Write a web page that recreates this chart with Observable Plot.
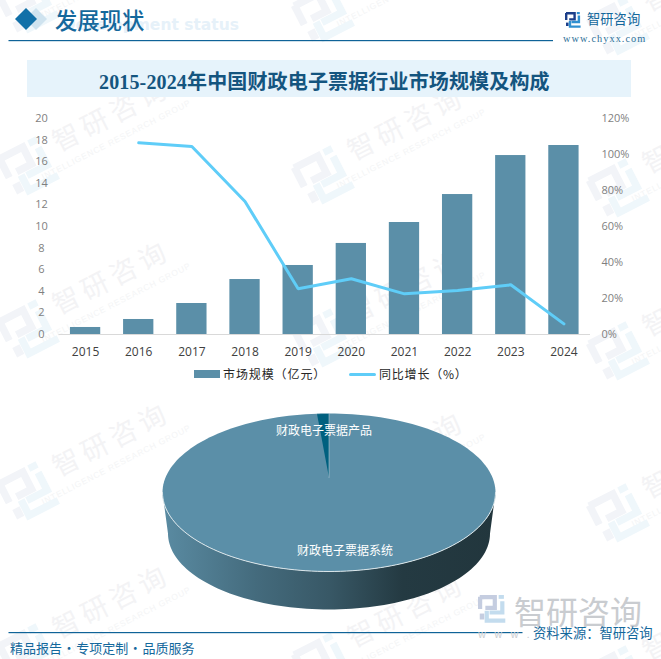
<!DOCTYPE html>
<html lang="zh">
<head>
<meta charset="utf-8">
<script src="https://cdn.jsdelivr.net/npm/d3@7"></script>
<script src="https://cdn.jsdelivr.net/npm/@observablehq/plot@0.6"></script>
<style>
html,body{margin:0;padding:0;background:#fff;}
#page{position:relative;width:661px;height:659px;overflow:hidden;font-family:"Noto Sans CJK SC",sans-serif;}
#page>*{position:absolute;}
#page svg{display:block;background:transparent;}
.nw{white-space:nowrap;line-height:1;}
</style>
</head>
<body>
<div id="page"></div>
<script>
const years = ["2015","2016","2017","2018","2019","2020","2021","2022","2023","2024"];
const marketSize = [0.65,1.39,2.87,5.09,6.39,8.43,10.37,12.96,16.57,17.5];
const growthYears = ["2016","2017","2018","2019","2020","2021","2022","2023","2024"];
const growthPct = [106.5,104.4,73.9,25.4,31,22.6,24.4,27.6,5.9];
const leftTicks = [0,2,4,6,8,10,12,14,16,18,20];
const rightTickPct = [0,20,40,60,80,100,120];
const pieNames = ["财政电子票据系统","财政电子票据产品"];
const pieShares = [98.85,1.15];

const barColor = "#5b8fa8", lineColor = "#5fcdf8", wedgeColor = "#00607f", ink = "#0f6398";
const cjk = '"Noto Sans CJK SC",sans-serif';
const numFont = '"Open Sans","Noto Sans CJK SC",sans-serif';
const page = d3.select("#page");

/* ---------- watermark ---------- */
const logoNavy = "M1 1.2H9.6V7.4H4.2M1.2 1V8";
const logoBlue = "M13.9 3.6V10H6.6M5 9V14.6H15.6";
const wm = page.append("svg").attr("width",661).attr("height",659).style("left",0).style("top",0);
function logo(g,s,a,b){
  g.attr("fill","none").attr("stroke-width",2.4);
  g.append("path").attr("d",logoNavy).attr("stroke",a);
  g.append("rect").attr("x",1).attr("y",10.6).attr("width",2.6).attr("height",3.4).attr("fill",a);
  g.append("rect").attr("x",11.8).attr("y",0).attr("width",3).attr("height",2.2).attr("fill",b);
  g.append("path").attr("d",logoBlue).attr("stroke",b);
}
const columns = [{x:112,dy:0},{x:407,dy:9},{x:702,dy:22}];
const rows = [-46,116,279,441,603];
for (const c of columns) for (const r of rows) {
  const y = r + c.dy;
  const g = wm.append("g").attr("transform",`translate(${c.x},${y}) rotate(-27)`);
  g.append("text").attr("text-anchor","middle").attr("y",8).attr("font-size",27).attr("letter-spacing",5)
    .attr("font-family",cjk).attr("fill","#f3f3f5").text("智研咨询");
  g.append("text").attr("text-anchor","middle").attr("x",-7).attr("y",26).attr("font-size",8.5).attr("letter-spacing",.8)
    .attr("font-family",'"Liberation Sans",sans-serif').attr("fill","#f4f5f6").text("INTELLIGENCE RESEARCH GROUP");
  const l = wm.append("g").attr("transform",`translate(${c.x-84},${y+52}) rotate(-27) scale(3.1) translate(-8,-8)`);
  logo(l,1,"#f2f4f8","#eff7fb");
}

/* ---------- header ---------- */
wm.append("text").attr("x",239).attr("y",30).attr("text-anchor","end").attr("font-size",15.5).attr("font-weight",700)
  .attr("font-family",'"DejaVu Sans",sans-serif').attr("fill","#e6f1f9").text("Development status");
wm.append("path").attr("d","M36 8L47 19L36 30L25 19Z").attr("fill","#cfe3ef");
wm.append("path").attr("d","M26 8L37 19L26 30L15 19Z").attr("fill","#1170a8");
wm.append("rect").attr("x",8.5).attr("y",40).attr("width",544.5).attr("height",1.2).attr("fill","#0f6398");
wm.append("rect").attr("x",8.5).attr("y",632).attr("width",514).attr("height",1.2).attr("fill","#0f6398");
wm.append("rect").attr("x",27).attr("y",60).attr("width",604).attr("height",37).attr("fill","#e6f3fb");
logo(wm.append("g").attr("transform","translate(565,12)"),1,"#1d3f8a","#2f8fd0");
logo(wm.append("g").attr("transform","translate(478,595) scale(1.75)"),1,"#c5cde0","#c3dcee");

function label(txt,left,cy,size,color,extra={}){
  const d = page.append("div").attr("class","nw").text(txt)
    .style("left",left+"px").style("top",(cy-size/2)+"px").style("font-size",size+"px")
    .style("color",color).style("height",size+"px");
  for (const k in extra) d.style(k,extra[k]);
  return d;
}
label("发展现状",55,19,22.3,"#14689c",{"font-weight":"500"});
label("智研咨询",587,19,13.3,"#14689c");
label("www.chyxx.com",563,39,10.3,"#2c6f98",{"font-family":'"Liberation Serif",serif',"letter-spacing":"1.05px"});
label("2015-2024年中国财政电子票据行业市场规模及构成",99,81.5,20,"#14557f",
  {"font-family":'"Liberation Serif","Noto Sans CJK SC",serif',"font-weight":"700","letter-spacing":"0.15px"});

/* ---------- combo chart ---------- */
const marketRows = years.map((year,i)=>({year,value:marketSize[i]}));
const growthRows = growthYears.map((year,i)=>({year,pct:growthPct[i]}));
const pctPerUnit = rightTickPct[rightTickPct.length-1]/leftTicks[leftTicks.length-1];
const bar = Plot.plot({
  width:661,height:390,marginTop:118,marginBottom:56,marginLeft:58.5,marginRight:71,
  style:{background:"transparent",overflow:"visible"},
  x:{domain:years,paddingInner:.43,paddingOuter:.215,round:false},
  y:{domain:[0,20]},
  marks:[
    Plot.barY(marketRows,{x:"year",y:"value",fill:barColor}),
    Plot.ruleY([0],{stroke:"#d9d9d9",strokeWidth:1.2}),
    Plot.line(growthRows,{x:"year",y:d=>d.pct/pctPerUnit,stroke:lineColor,strokeWidth:3,strokeLinecap:"round",strokeLinejoin:"miter"}),
    Plot.axisX({tickSize:0,tickPadding:13,color:"#404040",fontSize:12,fontFamily:numFont,label:null}),
    Plot.axisY({anchor:"left",ticks:leftTicks,tickSize:0,tickPadding:17.5,textAnchor:"middle",color:"#7f7f7f",fontSize:11,fontFamily:numFont,label:null}),
    Plot.axisY({anchor:"right",ticks:rightTickPct.map(p=>p/pctPerUnit),tickFormat:v=>Math.round(v*pctPerUnit)+"%",tickSize:0,tickPadding:11,color:"#7f7f7f",fontSize:11,fontFamily:numFont,label:null})
  ]
});
d3.select(bar).style("left","0").style("top","0");
page.node().append(bar);

/* legend */
page.append("div").style("left","194px").style("top","370px").style("width","26px").style("height","8px").style("background",barColor);
label("市场规模（亿元）",223,373.5,12,"#262626",{"letter-spacing":"0.9px"});
page.append("div").style("left","349px").style("top","372.5px").style("width","27px").style("height","3px").style("border-radius","2px").style("background",lineColor);
label("同比增长（%）",379,373.5,12,"#262626",{"letter-spacing":"0.8px"});

/* ---------- pie (tilted) ---------- */
const rad = d=>d*Math.PI/180;
const rimAngles = d3.range(0,361,2);
const rim = rimAngles.map(a=>({px:Math.sin(rad(a)),py:Math.cos(rad(a))}));
const frontTop = d3.range(90,271,2).map(a=>({px:Math.sin(rad(a)),py:Math.cos(rad(a))}));
const frontBottom = d3.range(270,89,-2).map(a=>({px:.967*Math.sin(rad(a)),py:-.519+.962*Math.cos(rad(a))}));
const wedgeDeg = pieShares[1]/d3.sum(pieShares)*360;
const apex = {px:0,py:.19};
const wedge = [apex,...d3.range(0,wedgeDeg+.01,wedgeDeg/6).map(a=>({px:-Math.sin(rad(a)),py:Math.cos(rad(a))}))];
const pieLabels = [
  {name:pieNames[1],px:-.03,py:.772},
  {name:pieNames[0],px:.096,py:-.747}
];
const defs = () => {
  const d = d3.create("svg:defs");
  const g = d.append("linearGradient").attr("id","sideGrad").attr("gradientUnits","userSpaceOnUse")
    .attr("x1",162).attr("x2",495).attr("y1",0).attr("y2",0);
  [[0,"#5a8ba2"],[.28,"#446b7d"],[.5,"#385866"],[.72,"#243a42"],[1,"#22363d"]]
    .forEach(([o,c])=>g.append("stop").attr("offset",o).attr("stop-color",c));
  return d.node();
};
const pie = Plot.plot({
  width:661,height:220,margin:0,
  style:{background:"transparent"},
  x:{domain:[-1,1],range:[162,495],axis:null},
  y:{domain:[-1,1],range:[171,13],axis:null},
  marks:[
    defs,
    Plot.line([...frontTop,...frontBottom],{x:"px",y:"py",fill:"url(#sideGrad)",stroke:"none"}),
    Plot.line(rim,{x:"px",y:"py",fill:barColor,stroke:"none"}),
    Plot.line(frontTop,{x:"px",y:"py",stroke:"#dbe6ea",strokeWidth:1}),
    Plot.line(wedge,{x:"px",y:"py",fill:wedgeColor,stroke:"#c9dbe2",strokeWidth:.5}),
    Plot.text(pieLabels,{x:"px",y:"py",text:"name",fill:"#fff",fontSize:12,fontFamily:cjk})
  ]
});
d3.select(pie).style("left","0").style("top","400px");
page.node().append(pie);

/* ---------- footer ---------- */
label("智研咨询",514,610,32,"#c9ccd0");
label("w w w . ",478,634,10,"#c9ccd0",{"letter-spacing":"3px"});
label("资料来源：智研咨询",533,633,13.3,"#14689c");
label("精品报告 · 专项定制 · 品质服务",10,647,13,"#14689c",{"word-spacing":"-2.3px"});
</script>
</body>
</html>
